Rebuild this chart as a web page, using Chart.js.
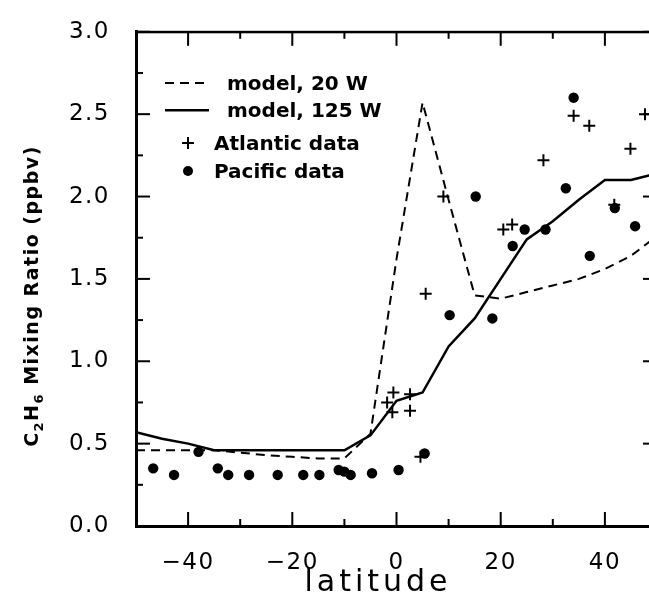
<!DOCTYPE html>
<html>
<head>
<meta charset="utf-8">
<script src="https://cdn.jsdelivr.net/npm/chart.js@4"></script>
<style>
  html, body { margin: 0; padding: 0; background: #fff; overflow: hidden; }
  #wrap { width: 665px; height: 605px; }
</style>
</head>
<body>
<div id="wrap"><canvas id="c" width="665" height="605"></canvas></div>
<script>
// model curves, every 5 degrees of latitude
const modelLat = [-50, -45, -40, -35, -30, -25, -20, -15, -10, -5, 0, 5, 10, 15, 20, 25, 30, 35, 40, 45, 50];
const model20W = [0.46, 0.46, 0.46, 0.46, 0.445, 0.43, 0.42, 0.41, 0.41, 0.56, 1.62, 2.57, 1.98, 1.40, 1.38, 1.42, 1.46, 1.50, 1.56, 1.64, 1.76];
const model125W = [0.57, 0.53, 0.50, 0.46, 0.46, 0.46, 0.46, 0.46, 0.46, 0.55, 0.76, 0.81, 1.09, 1.26, 1.50, 1.74, 1.85, 1.98, 2.10, 2.10, 2.14];

// ship data
const atlLat = [-0.6, 2.6, -1.8, -0.8, 2.6, 4.6, 5.6, 9.0, 20.5, 22.2, 28.2, 34.0, 37.0, 41.8, 44.9, 47.7];
const atlVal = [0.81, 0.80, 0.75, 0.69, 0.70, 0.42, 1.41, 2.00, 1.80, 1.83, 2.22, 2.49, 2.43, 1.95, 2.29, 2.50];

const pacLat = [-46.7, -42.7, -38.0, -34.3, -32.3, -28.3, -22.8, -17.9, -14.8, -11.1, -10.0, -8.8, -4.7, 0.4, 5.4, 10.2, 15.2, 18.4, 22.3, 24.6, 28.6, 32.5, 34.0, 37.1, 41.9, 45.8];
const pacVal = [0.35, 0.31, 0.45, 0.35, 0.31, 0.31, 0.31, 0.31, 0.31, 0.34, 0.33, 0.31, 0.32, 0.34, 0.44, 1.28, 2.00, 1.26, 1.70, 1.80, 1.80, 2.05, 2.60, 1.64, 1.93, 1.82];

const xTicks = [-40, -20, 0, 20, 40];
const yTicks = [0, 0.5, 1, 1.5, 2, 2.5, 3];

const legendItems = ["model, 20 W", "model, 125 W", "Atlantic data", "Pacific data"];

const pts = (xs, ys) => xs.map((x, i) => ({ x: x, y: ys[i] }));

const FONT = "'DejaVu Sans', sans-serif";

// inward ticks, top/right frame, titles and the legend box
const decor = {
  id: "decor",
  beforeUpdate(chart) { chart.ctx.letterSpacing = "1.5px"; },
  beforeDraw(chart) { chart.ctx.letterSpacing = "1.5px"; },
  afterDraw(chart) {
    const ctx = chart.ctx;
    const xs = chart.scales.x, ys = chart.scales.y;
    const L = xs.getPixelForValue(-50), R = xs.getPixelForValue(50);
    const T = ys.getPixelForValue(3), B = ys.getPixelForValue(0);
    ctx.save();
    ctx.setLineDash([]);
    ctx.fillStyle = "#000";

    ctx.fillRect(L, T - 1, R - L, 2.5);
    ctx.fillRect(R - 1, T, 2.5, B - T);

    for (let v = -50; v <= 50; v += 10) {
      const px = xs.getPixelForValue(v);
      const len = v % 20 === 0 ? 14 : 7;
      ctx.fillRect(px - 1, B - len, 2, len);
      ctx.fillRect(px - 1, T, 2, len);
    }
    for (let i = 0; i <= 12; i++) {
      const py = ys.getPixelForValue(i * 0.25);
      const len = i % 2 === 0 ? 14 : 7;
      ctx.fillRect(L, py - 1, len, 2);
      ctx.fillRect(R - len, py - 1, len, 2);
    }

    // x title
    ctx.letterSpacing = "4px";
    ctx.font = "30px " + FONT;
    ctx.textAlign = "left";
    ctx.textBaseline = "alphabetic";
    const xt = "latitude";
    const xw = ctx.measureText(xt).width - 4;
    ctx.fillText(xt, 376 - xw / 2, 591);

    // y title, rotated, with subscripts
    ctx.letterSpacing = "1.5px";
    const big = "bold 19px " + FONT, small = "bold 13px " + FONT;
    const parts = [["C", big, 0], ["2", small, 5], ["H", big, 0], ["6", small, 5], [" Mixing Ratio (ppbv)", big, 0]];
    let total = 0;
    parts.forEach(p => { ctx.font = p[1]; total += ctx.measureText(p[0]).width; });
    ctx.translate(38, 296);
    ctx.rotate(-Math.PI / 2);
    let cx = -total / 2;
    parts.forEach(p => {
      ctx.font = p[1];
      ctx.fillText(p[0], cx, p[2]);
      cx += ctx.measureText(p[0]).width;
    });
    ctx.setTransform(1, 0, 0, 1, 0, 0);

    // legend
    ctx.letterSpacing = "0px";
    ctx.font = "bold 20px " + FONT;
    ctx.strokeStyle = "#000";
    ctx.lineWidth = 2;
    ctx.setLineDash([9, 6]);
    ctx.beginPath(); ctx.moveTo(165, 83); ctx.lineTo(209, 83); ctx.stroke();
    ctx.setLineDash([]);
    ctx.fillRect(165, 109, 44, 2.5);
    ctx.fillRect(182, 142, 12, 2);
    ctx.fillRect(187, 137, 2, 12);
    ctx.beginPath(); ctx.arc(188, 171, 5, 0, Math.PI * 2); ctx.fill();
    ctx.fillText(legendItems[0], 227, 90);
    ctx.fillText(legendItems[1], 227, 117);
    ctx.fillText(legendItems[2], 214, 150);
    ctx.fillText(legendItems[3], 214, 178);

    ctx.restore();
  }
};

new Chart(document.getElementById("c"), {
  type: "scatter",
  data: {
    datasets: [
      {
        label: legendItems[0],
        data: pts(modelLat, model20W),
        showLine: true,
        borderColor: "#000",
        borderWidth: 2,
        borderDash: [9, 6],
        pointRadius: 0,
        fill: false
      },
      {
        label: legendItems[1],
        data: pts(modelLat, model125W),
        showLine: true,
        borderColor: "#000",
        borderWidth: 2.5,
        pointRadius: 0,
        fill: false
      },
      {
        label: legendItems[2],
        data: pts(atlLat, atlVal),
        pointStyle: "cross",
        pointRadius: 6,
        borderColor: "#000",
        borderWidth: 2,
        backgroundColor: "#000"
      },
      {
        label: legendItems[3],
        data: pts(pacLat, pacVal),
        pointStyle: "circle",
        pointRadius: 5.2,
        borderWidth: 0,
        backgroundColor: "#000"
      }
    ]
  },
  options: {
    responsive: false,
    animation: false,
    layout: { padding: { top: 26, right: 3, left: 0, bottom: 0 } },
    plugins: { legend: { display: false }, tooltip: { enabled: false } },
    scales: {
      x: {
        type: "linear",
        min: -50,
        max: 50,
        grid: { display: false },
        border: { display: true, color: "#000", width: 3 },
        afterBuildTicks: s => { s.ticks = xTicks.map(v => ({ value: v })); },
        ticks: {
          font: { family: FONT, size: 23 },
          color: "#000",
          padding: 15,
          maxRotation: 0,
          autoSkip: false,
          callback: v => (v < 0 ? "\u2212" + Math.abs(v) : String(v))
        },
        afterFit: s => { s.height = 79; }
      },
      y: {
        min: 0,
        max: 3,
        grid: { display: false },
        border: { display: true, color: "#000", width: 3 },
        afterBuildTicks: s => { s.ticks = yTicks.map(v => ({ value: v })); },
        ticks: {
          font: { family: FONT, size: 23 },
          color: "#000",
          padding: 18,
          autoSkip: false,
          callback: v => Number(v).toFixed(1)
        },
        afterFit: s => { s.width = 136; }
      }
    }
  },
  plugins: [decor]
});
</script>
</body>
</html>
